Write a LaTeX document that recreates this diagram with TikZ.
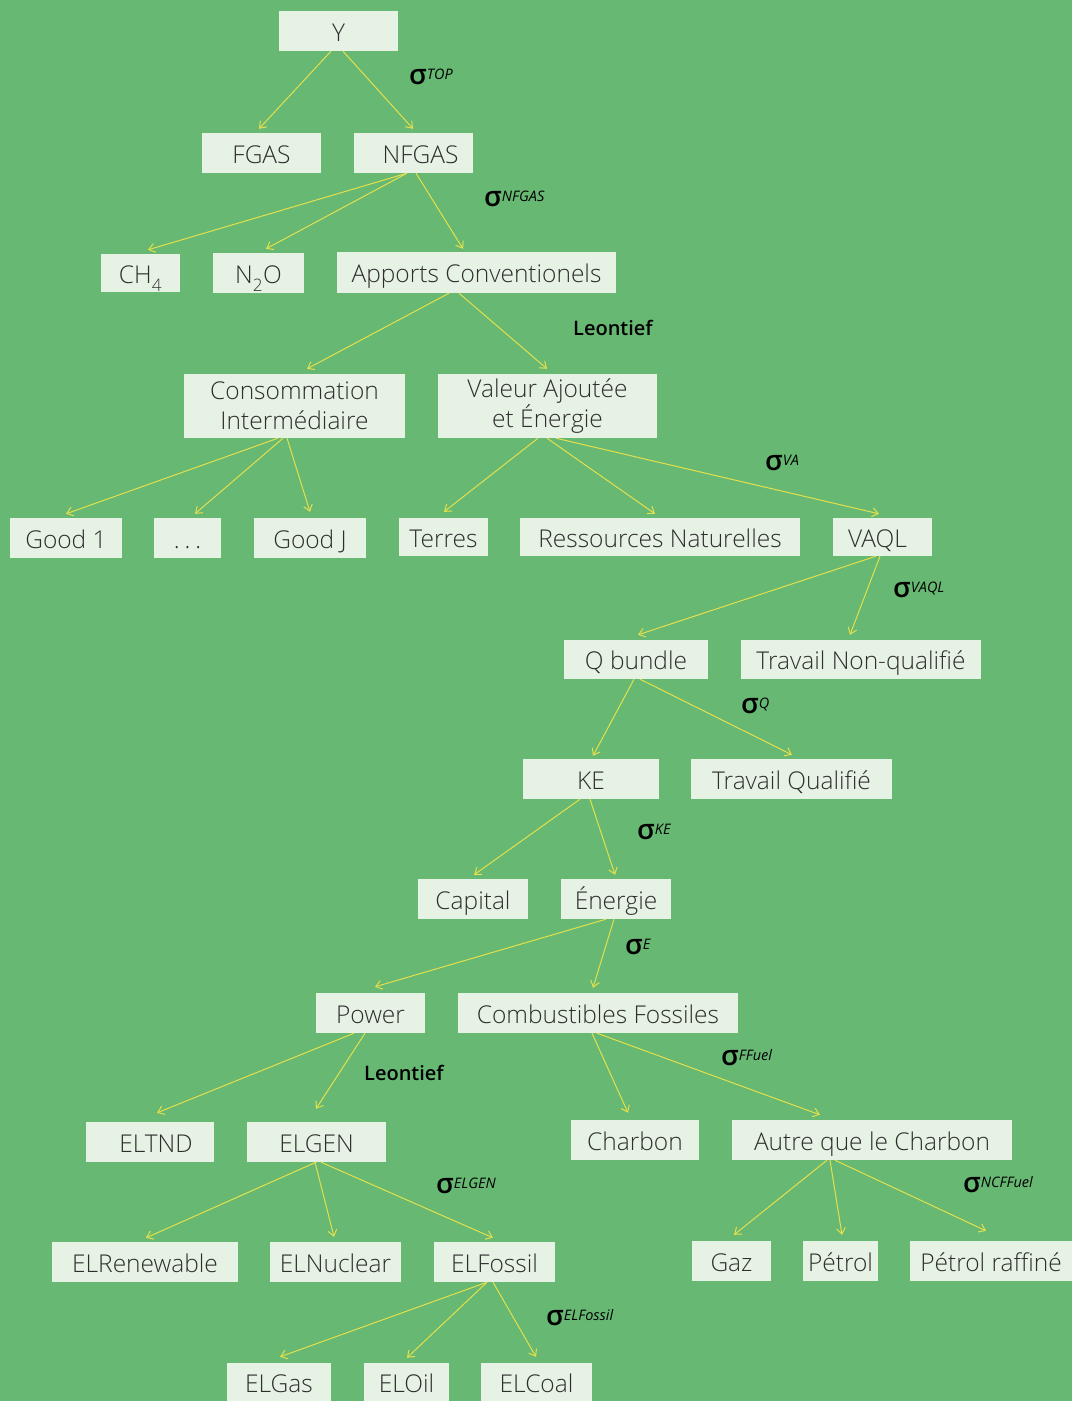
\documentclass[tikz,border=0pt]{standalone}
\usepackage{fontspec}
\setmainfont{Open Sans}[UprightFont=* Light, ItalicFont=* Light Italic, BoldFont=*]
\newfontfamily\regfont{Open Sans}
\IfFontExistsTF{Open Sans Semibold}{\newfontfamily\semifont{Open Sans Semibold}}{%
  \IfFontExistsTF{Open Sans SemiBold}{\newfontfamily\semifont{Open Sans SemiBold}}{\newcommand\semifont{\regfont}}}
\IfFontExistsTF{Open Sans Semibold Italic}{\newfontfamily\semiitfont{Open Sans Semibold Italic}}{%
  \IfFontExistsTF{Open Sans SemiBold Italic}{\newfontfamily\semiitfont{Open Sans SemiBold Italic}}{\newcommand\semiitfont{\regfont\itshape}}}
\usetikzlibrary{arrows.meta}
\definecolor{bg}{HTML}{67B873}
\definecolor{boxfill}{HTML}{E6F2E3}
\definecolor{txt}{HTML}{2E2E2E}
\definecolor{arrowc}{HTML}{E4E04C}
\newcommand\sigl[1]{{\semifont\fontsize{28}{28}\selectfont σ}\raisebox{0.5em}{\regfont\itshape\fontsize{14.5}{14.5}\selectfont #1}}
\tikzset{
  box/.style={fill=boxfill, inner sep=0pt, text=txt, font=\fontsize{24.5}{30}\selectfont, minimum height=40pt, text height=20pt, text depth=0pt},
  box2/.style={fill=boxfill, inner sep=0pt, text=txt, font=\fontsize{24.5}{30}\selectfont, align=center, minimum height=64pt},
  arr/.style={draw=arrowc, line width=1pt, -{Straight Barb[length=6pt,width=9pt]}},
  lbl/.style={text=black, inner sep=0pt},
  leo/.style={text=black, inner sep=0pt, font=\semifont\fontsize{20}{20}\selectfont}
}
\begin{document}
\begin{tikzpicture}[x=1pt,y=-1pt]
\fill[bg] (0,0) rectangle (1072,1401);
\useasboundingbox (0,0) rectangle (1072,1401);
% nodes
\node[box, minimum width=119pt] (Y) at (338.5,31) {Y};
\node[box, minimum width=119pt] (FGAS) at (261.5,153) {FGAS};
\node[box, minimum width=119pt] (NFGAS) at (413.5,153) {\hspace*{14pt}NFGAS};
\node[box, minimum width=79pt, minimum height=38pt] (CH4) at (140.5,273) {CH\textsubscript{\raisebox{-0.5ex}{4}}};
\node[box, minimum width=91pt] (N2O) at (258.5,273) {N\textsubscript{\raisebox{-0.5ex}{2}}O};
\node[box, minimum width=279pt, minimum height=41pt] (AC) at (476.5,272.5) {Apports Conventionels};
\node[box2, minimum width=221pt] (CI) at (294.5,406) {Consommation\\Intermédiaire};
\node[box2, minimum width=219pt] (VAE) at (547.5,406) {Valeur Ajoutée\\et Énergie};
\node[box, minimum width=112pt] (G1) at (66,538) {Good 1};
\node[box, minimum width=67pt] (DOTS) at (187.5,538) {.\hspace{5pt}.\hspace{5pt}.};
\node[box, minimum width=112pt] (GJ) at (310,538) {Good J};
\node[box, minimum width=89pt, minimum height=38pt] (TER) at (443.5,537) {Terres};
\node[box, minimum width=280pt, minimum height=38pt] (RN) at (660,537) {Ressources Naturelles};
\node[box, minimum width=99pt, minimum height=38pt] (VAQL) at (882.5,537) {VAQL\hspace*{10pt}};
\node[box, minimum width=144pt, minimum height=39pt] (QB) at (636,659.5) {Q bundle};
\node[box, minimum width=240pt, minimum height=39pt] (TNQ) at (861,659.5) {Travail Non-qualifié};
\node[box, minimum width=136pt] (KE) at (591,779) {KE};
\node[box, minimum width=201pt] (TQ) at (791.5,779) {Travail Qualifié};
\node[box, minimum width=110pt] (CAP) at (473,899) {Capital};
\node[box, minimum width=110pt] (ENE) at (616,899) {Énergie};
\node[box, minimum width=109pt] (POW) at (370.5,1013) {Power};
\node[box, minimum width=280pt] (CF) at (598,1013) {Combustibles Fossiles};
\node[box, minimum width=128pt] (ELTND) at (150,1142) {\hspace*{12pt}ELTND};
\node[box, minimum width=139pt] (ELGEN) at (316.5,1142) {ELGEN};
\node[box, minimum width=128pt] (CHA) at (635,1140) {Charbon};
\node[box, minimum width=280pt] (AQC) at (872,1140) {Autre que le Charbon};
\node[box, minimum width=186pt] (ELR) at (145,1262) {ELRenewable};
\node[box, minimum width=131pt] (ELN) at (335.5,1262) {ELNuclear};
\node[box, minimum width=121pt] (ELF) at (494.5,1262) {ELFossil};
\node[box, minimum width=79pt] (GAZ) at (731.5,1261) {Gaz};
\node[box, minimum width=75pt] (PET) at (840.5,1261) {Pétrol};
\node[box, minimum width=162pt] (PR) at (991,1261) {Pétrol raffiné};
\node[box, minimum width=104pt, minimum height=38pt] (ELGAS) at (279,1382) {ELGas};
\node[box, minimum width=85pt, minimum height=38pt] (ELOIL) at (406.5,1382) {ELOil};
\node[box, minimum width=111pt, minimum height=38pt] (ELCOAL) at (536.5,1382) {ELCoal};
% arrows
\draw[arr] ([xshift=-7.5pt]Y.south) -- ([xshift=-2.5pt,yshift=4pt]FGAS.north);
\draw[arr] ([xshift=4.5pt]Y.south) -- ([xshift=-0.5pt,yshift=4pt]NFGAS.north);
\draw[arr] ([xshift=-6.5pt]NFGAS.south) -- ([xshift=7.5pt,yshift=4pt]CH4.north);
\draw[arr] ([xshift=-6.5pt]NFGAS.south) -- ([xshift=7.5pt,yshift=4pt]N2O.north);
\draw[arr] ([xshift=2.5pt]NFGAS.south) -- ([xshift=-13.5pt,yshift=3pt]AC.north);
\draw[arr] ([xshift=-27.5pt]AC.south) -- ([xshift=12.5pt,yshift=5pt]CI.north);
\draw[arr] ([xshift=-17.5pt]AC.south) -- ([xshift=-0.5pt,yshift=5pt]VAE.north);
\draw[arr] ([xshift=-16.5pt]CI.south) -- ([yshift=4pt]G1.north);
\draw[arr] ([xshift=-11.5pt]CI.south) -- ([xshift=7.5pt,yshift=4pt]DOTS.north);
\draw[arr] ([xshift=-7.5pt]CI.south) -- ([yshift=6pt]GJ.north);
\draw[arr] ([xshift=-9.5pt]VAE.south) -- ([xshift=0.5pt,yshift=6pt]TER.north);
\draw[arr] ([xshift=-0.5pt]VAE.south) -- ([xshift=-5pt,yshift=4pt]RN.north);
\draw[arr] ([xshift=8.5pt]VAE.south) -- ([xshift=-3.5pt,yshift=4pt]VAQL.north);
\draw[arr] ([xshift=-6.5pt]VAQL.south) -- ([xshift=2pt,yshift=5pt]QB.north);
\draw[arr] ([xshift=-2.5pt]VAQL.south) -- ([xshift=-11pt,yshift=5pt]TNQ.north);
\draw[arr] ([xshift=-2pt]QB.south) -- ([xshift=2pt,yshift=3pt]KE.north);
\draw[arr] ([xshift=4pt]QB.south) -- ([xshift=0.5pt,yshift=4pt]TQ.north);
\draw[arr] ([xshift=-11pt]KE.south) -- ([xshift=1pt,yshift=4pt]CAP.north);
\draw[arr] ([xshift=-1pt]KE.south) -- ([xshift=-1pt,yshift=4pt]ENE.north);
\draw[arr] ([xshift=-10pt]ENE.south) -- ([xshift=4.5pt,yshift=6pt]POW.north);
\draw[arr] ([xshift=-2pt]ENE.south) -- ([xshift=-5pt,yshift=5pt]CF.north);
\draw[arr] ([xshift=-16.5pt]POW.south) -- ([xshift=7pt,yshift=9pt]ELTND.north);
\draw[arr] ([xshift=-5.5pt]POW.south) -- ([xshift=-0.5pt,yshift=13pt]ELGEN.north);
\draw[arr] ([xshift=-6pt]CF.south) -- ([xshift=-7pt,yshift=7pt]CHA.north);
\draw[arr] ([xshift=-1pt]CF.south) -- ([xshift=-52pt,yshift=5pt]AQC.north);
\draw[arr] ([xshift=-0.5pt]ELGEN.south) -- ([xshift=1pt,yshift=4pt]ELR.north);
\draw[arr] ([xshift=-1.5pt]ELGEN.south) -- ([xshift=-1.5pt,yshift=5pt]ELN.north);
\draw[arr] ([xshift=4.5pt]ELGEN.south) -- ([xshift=-1.5pt,yshift=4pt]ELF.north);
\draw[arr] ([xshift=-45pt]AQC.south) -- ([xshift=2.5pt,yshift=6pt]GAZ.north);
\draw[arr] ([xshift=-42pt]AQC.south) -- ([xshift=1.5pt,yshift=6pt]PET.north);
\draw[arr] ([xshift=-37pt]AQC.south) -- ([xshift=-5pt,yshift=10pt]PR.north);
\draw[arr] ([xshift=-7.5pt]ELF.south) -- ([xshift=1pt,yshift=6pt]ELGAS.north);
\draw[arr] ([xshift=-7.5pt]ELF.south) -- ([xshift=0.5pt,yshift=5pt]ELOIL.north);
\draw[arr] ([xshift=-1.5pt]ELF.south) -- ([xshift=-0.5pt,yshift=6pt]ELCOAL.north);
% labels
\node[lbl, anchor=west] (sTOP) at (409,77) {\sigl{TOP}};
\node[lbl, anchor=west] (sNFGAS) at (484,199) {\sigl{NFGAS}};
\node[leo, anchor=west] (leo1) at (573,328) {Leontief};
\node[lbl, anchor=west] (sVA) at (765,463) {\sigl{VA}};
\node[lbl, anchor=west] (sVAQL) at (893,590) {\sigl{VAQL}};
\node[lbl, anchor=west] (sQ) at (741,706) {\sigl{Q}};
\node[lbl, anchor=west] (sKE) at (637,832) {\sigl{KE}};
\node[lbl, anchor=west] (sE) at (625,947) {\sigl{E}};
\node[leo, anchor=west] (leo2) at (364,1073) {Leontief};
\node[lbl, anchor=west] (sFF) at (721,1058) {\sigl{FFuel}};
\node[lbl, anchor=west] (sELGEN) at (436,1186) {\sigl{ELGEN}};
\node[lbl, anchor=west] (sNCF) at (963,1185) {\sigl{NCFFuel}};
\node[lbl, anchor=west] (sELF) at (546,1318) {\sigl{ELFossil}};
\end{tikzpicture}
\end{document}
